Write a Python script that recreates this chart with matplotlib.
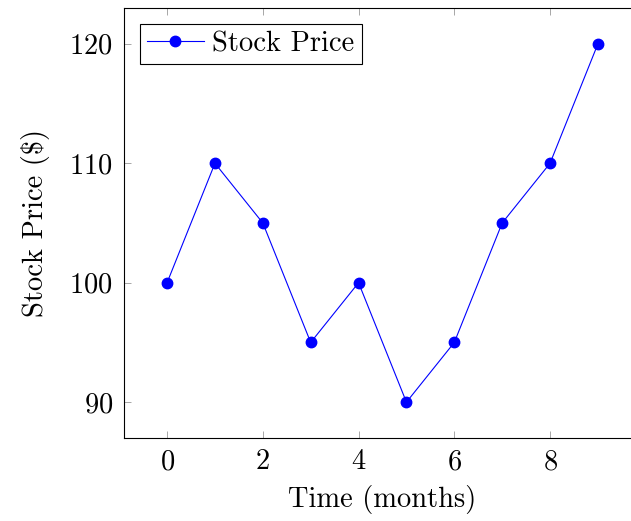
import matplotlib
matplotlib.use("Agg")
import matplotlib.pyplot as plt

# data
months = [0, 1, 2, 3, 4, 5, 6, 7, 8, 9]
price = [100, 110, 105, 95, 100, 90, 95, 105, 110, 120]
xticks = [0, 2, 4, 6, 8]
yticks = [90, 100, 110, 120]

plt.rcParams["font.family"] = "serif"
plt.rcParams["font.serif"] = ["cmr10"]
plt.rcParams["mathtext.fontset"] = "cm"
plt.rcParams["axes.formatter.use_mathtext"] = True

FS = 20.5

fig = plt.figure(figsize=(6.31, 5.21), dpi=100)
ax = fig.add_axes([124 / 631, 83 / 521, 517 / 631, 430 / 521])

ax.plot(months, price, color="blue", lw=0.8, marker="o", markersize=7.5,
        label="Stock Price")

ax.set_xlim(-0.9, 9.9)
ax.set_ylim(87, 123)
ax.set_xticks(xticks)
ax.set_yticks(yticks)
ax.tick_params(direction="in", length=5, width=0.6, color="#999999",
               top=True, right=True, labelsize=FS, pad=8)
for s in ax.spines.values():
    s.set_linewidth(0.8)

ax.set_xlabel("Time (months)", fontsize=FS, labelpad=7)
ax.set_ylabel(r"Stock Price (\$)", fontsize=FS, labelpad=14)

leg = ax.legend(loc="upper left", fontsize=FS, fancybox=False, framealpha=1,
                edgecolor="black", handlelength=2.0, borderaxespad=0.55,
                handletextpad=0.3, borderpad=0.25)
leg.get_frame().set_linewidth(0.8)

fig.savefig("out.png", dpi=100)
